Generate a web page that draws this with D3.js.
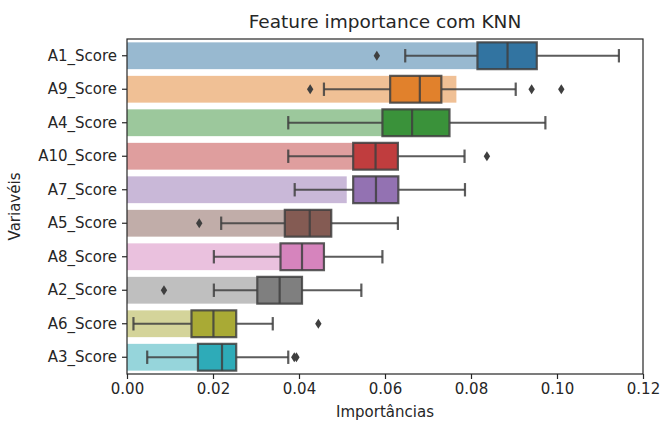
<!DOCTYPE html>
<html>
<head>
<meta charset="utf-8">
<script src="https://cdn.jsdelivr.net/npm/d3@7"></script>
<style>
  body { margin: 0; background: #fff; }
  text { font-family: "DejaVu Sans", sans-serif; fill: #262626; }
</style>
</head>
<body>
<script>
// feature names, top to bottom
const features = ["A1_Score", "A9_Score", "A4_Score", "A10_Score", "A7_Score",
                  "A5_Score", "A8_Score", "A2_Score", "A6_Score", "A3_Score"];

// bar (importance) values
const barValues = [0.086, 0.0766, 0.066, 0.057, 0.0511, 0.042, 0.040, 0.035, 0.020, 0.021];

// box plot stats
const whiskerLow  = [0.0647, 0.0458, 0.0375, 0.0375, 0.0390, 0.0219, 0.0202, 0.0202, 0.0015, 0.0047];
const q1          = [0.0815, 0.0612, 0.0594, 0.0526, 0.0526, 0.0367, 0.0357, 0.0303, 0.0150, 0.0165];
const median      = [0.0885, 0.0681, 0.0663, 0.0578, 0.0579, 0.0425, 0.0407, 0.0355, 0.0201, 0.0221];
const q3          = [0.0953, 0.0731, 0.0750, 0.0630, 0.0631, 0.0475, 0.0458, 0.0407, 0.0254, 0.0254];
const whiskerHigh = [0.1144, 0.0904, 0.0973, 0.0785, 0.0786, 0.0630, 0.0594, 0.0545, 0.0339, 0.0375];
const outliers = [[0.0581], [0.0426, 0.0941, 0.1010], [], [0.0837], [],
                  [0.0168], [], [0.0086], [0.0445], [0.0389, 0.0394]];

const xTicks = [0, 0.02, 0.04, 0.06, 0.08, 0.10, 0.12];

const boxColors = ["#3274a1", "#e1812c", "#3a923a", "#c03d3e", "#9372b2",
                   "#845b53", "#d684bd", "#7f7f7f", "#a9aa35", "#2eabb8"];

const W = 660, H = 422;
const margin = {left: 127, right: 17, top: 39, bottom: 48};
const iw = W - margin.left - margin.right,
      ih = H - margin.top - margin.bottom;

const svg = d3.select("body").append("svg").attr("width", W).attr("height", H);
const g = svg.append("g").attr("transform", `translate(${margin.left},${margin.top})`);

const x = d3.scaleLinear().domain([0, 0.12]).range([0, iw]);
const y = d3.scaleBand().domain(features).range([0, ih]).padding(0);
const bh = y.bandwidth() * 0.8;
const cy = d => y(d) + y.bandwidth() / 2;

const rows = features.map((f, i) => ({
  name: f, bar: barValues[i], lo: whiskerLow[i], q1: q1[i], med: median[i],
  q3: q3[i], hi: whiskerHigh[i], out: outliers[i], color: boxColors[i]
}));

// translucent bars
g.selectAll("rect.bar").data(rows).enter().append("rect")
  .attr("class", "bar")
  .attr("x", x(0))
  .attr("y", d => cy(d.name) - bh / 2)
  .attr("width", d => x(d.bar) - x(0))
  .attr("height", bh)
  .attr("fill", d => d.color)
  .attr("fill-opacity", 0.5);

const lineCol = "#3f3f3f";
const box = g.selectAll("g.box").data(rows).enter().append("g").attr("class", "box");

// whiskers
box.append("line")
  .attr("x1", d => x(d.lo)).attr("x2", d => x(d.q1))
  .attr("y1", d => cy(d.name)).attr("y2", d => cy(d.name));
box.append("line")
  .attr("x1", d => x(d.q3)).attr("x2", d => x(d.hi))
  .attr("y1", d => cy(d.name)).attr("y2", d => cy(d.name));
// caps
box.append("line")
  .attr("x1", d => x(d.lo)).attr("x2", d => x(d.lo))
  .attr("y1", d => cy(d.name) - bh / 4).attr("y2", d => cy(d.name) + bh / 4);
box.append("line")
  .attr("x1", d => x(d.hi)).attr("x2", d => x(d.hi))
  .attr("y1", d => cy(d.name) - bh / 4).attr("y2", d => cy(d.name) + bh / 4);
box.selectAll("line").attr("stroke", lineCol).attr("stroke-width", 2.2).attr("stroke-opacity", 0.85);

// box
box.append("rect")
  .attr("x", d => x(d.q1))
  .attr("y", d => cy(d.name) - bh / 2)
  .attr("width", d => x(d.q3) - x(d.q1))
  .attr("height", bh)
  .attr("fill", d => d.color)
  .attr("stroke", lineCol).attr("stroke-width", 2.2).attr("stroke-opacity", 0.85);
// median
box.append("line")
  .attr("x1", d => x(d.med)).attr("x2", d => x(d.med))
  .attr("y1", d => cy(d.name) - bh / 2).attr("y2", d => cy(d.name) + bh / 2)
  .attr("stroke", lineCol).attr("stroke-width", 2.2).attr("stroke-opacity", 0.85);

// fliers (thin diamonds)
box.each(function(d) {
  d3.select(this).selectAll("path.flier").data(d.out).enter().append("path")
    .attr("class", "flier")
    .attr("d", "M0,-5L3.2,0L0,5L-3.2,0Z")
    .attr("transform", v => `translate(${x(v)},${cy(d.name)})`)
    .attr("fill", lineCol);
});

// axes
const xAxis = g.append("g").attr("transform", `translate(0,${ih})`)
  .call(d3.axisBottom(x).tickValues(xTicks).tickFormat(d3.format(".2f")).tickSize(5).tickPadding(4));
const yAxis = g.append("g")
  .call(d3.axisLeft(y).tickSize(5).tickPadding(5));
[xAxis, yAxis].forEach(a => {
  a.select(".domain").remove();
  a.selectAll("line").attr("stroke", "#262626").attr("stroke-width", 1.2);
  a.selectAll("text").attr("font-size", 15).attr("font-family", "DejaVu Sans").attr("fill", "#262626");
});

// frame
g.append("rect").attr("width", iw).attr("height", ih)
  .attr("fill", "none").attr("stroke", "#262626").attr("stroke-width", 1.2);

// titles
svg.append("text").attr("x", margin.left + iw / 2).attr("y", 28)
  .attr("text-anchor", "middle").attr("font-size", 18.5).text("Feature importance com KNN");
svg.append("text").attr("x", margin.left + iw / 2).attr("y", 417)
  .attr("text-anchor", "middle").attr("font-size", 15).text("Importâncias");
svg.append("text").attr("transform", `translate(20,${margin.top + ih / 2}) rotate(-90)`)
  .attr("text-anchor", "middle").attr("font-size", 15).text("Variavéis");
</script>
</body>
</html>
